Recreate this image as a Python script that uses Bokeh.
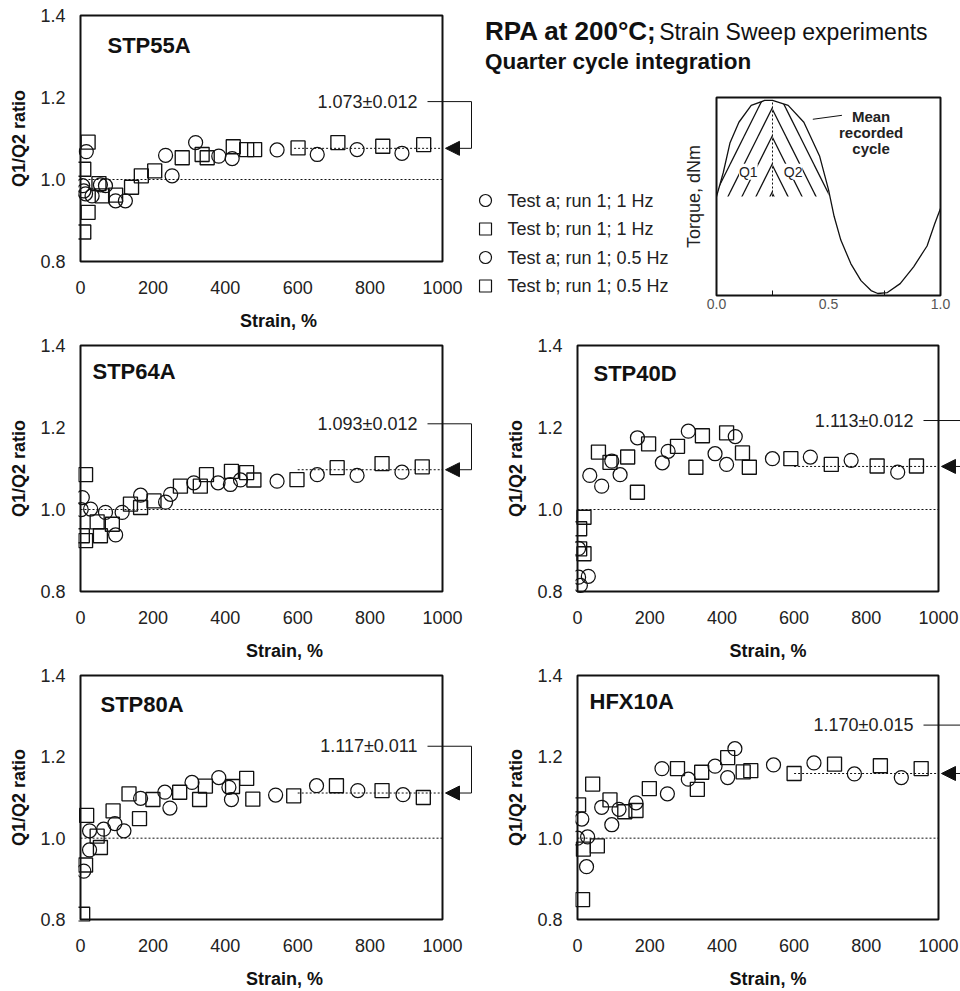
from bokeh.plotting import figure
from bokeh.layouts import row, column
from bokeh.models import (Range1d, FixedTicker, NumeralTickFormatter, Label, Arrow,
                          NormalHead, Div, BoxAnnotation)
from bokeh.core.properties import value
from bokeh.embed import file_html
from bokeh.resources import INLINE

FONT = "Liberation Sans"
INK = "#111111"

# ---------------- data ----------------
x_ticks = [0, 200, 400, 600, 800, 1000]
y_ticks = [0.8, 1.0, 1.2, 1.4]
x_max = 1000
y_min, y_max = 0.8, 1.4
ref_ratio = 1.0

panel_names = ["STP55A", "STP64A", "STP40D", "STP80A", "HFX10A"]
mean_text = ["1.073\u00b10.012", "1.093\u00b10.012", "1.113\u00b10.012", "1.117\u00b10.011", "1.170\u00b10.015"]
mean_level = [1.076, 1.097, 1.105, 1.111, 1.159]
text_level = [1.190, 1.209, 1.217, 1.226, 1.278]
fit_from = [590, 600, 600, 600, 600]

stp55a_circle_x = [16, 6, 9, 14, 32, 55, 69, 97, 124, 235, 253, 318, 382, 419, 543, 654, 764, 888]
stp55a_circle_y = [1.068, 0.985, 0.972, 0.965, 0.960, 0.987, 0.985, 0.948, 0.948, 1.059, 1.009, 1.090,
                   1.057, 1.051, 1.072, 1.061, 1.073, 1.064]
stp55a_square_x = [21, 9, 21, 9, 51, 60, 97, 141, 168, 205, 281, 336, 350, 422, 459, 481, 601, 711, 835, 948]
stp55a_square_y = [1.091, 1.025, 0.920, 0.872, 0.990, 0.960, 0.962, 0.981, 1.009, 1.021, 1.053, 1.061,
                   1.053, 1.080, 1.073, 1.073, 1.077, 1.090, 1.081, 1.085]

stp64a_circle_x = [5, 2, 28, 69, 115, 97, 166, 235, 249, 313, 380, 414, 442, 543, 654, 764, 888]
stp64a_circle_y = [1.029, 1.000, 1.001, 0.993, 0.993, 0.938, 1.035, 1.018, 1.037, 1.065, 1.065, 1.061,
                   1.072, 1.069, 1.085, 1.083, 1.091]
stp64a_square_x = [14, 5, 14, 46, 55, 88, 138, 166, 203, 276, 331, 348, 417, 459, 479, 598, 709, 833, 944]
stp64a_square_y = [1.085, 0.936, 0.924, 0.970, 0.936, 0.964, 1.013, 1.005, 1.021, 1.057, 1.057, 1.085,
                   1.093, 1.090, 1.072, 1.073, 1.102, 1.112, 1.104]

stp40d_circle_x = [3, 3, 8, 30, 34, 67, 95, 118, 166, 235, 251, 307, 381, 413, 437, 540, 645, 758, 887]
stp40d_circle_y = [0.905, 0.835, 0.815, 0.837, 1.083, 1.057, 1.118, 1.085, 1.175, 1.114, 1.142, 1.191,
                   1.136, 1.110, 1.178, 1.124, 1.128, 1.120, 1.091]
stp40d_square_x = [6, 18, 6, 18, 58, 90, 139, 166, 197, 277, 328, 346, 413, 457, 476, 591, 703, 830, 939]
stp40d_square_y = [0.953, 0.981, 0.904, 0.892, 1.140, 1.115, 1.128, 1.042, 1.160, 1.154, 1.103, 1.180,
                   1.187, 1.138, 1.103, 1.124, 1.110, 1.106, 1.106]

stp80a_circle_x = [9, 25, 25, 64, 95, 120, 166, 233, 247, 308, 382, 410, 417, 539, 652, 766, 891]
stp80a_circle_y = [0.919, 0.971, 1.018, 1.022, 1.036, 1.018, 1.098, 1.113, 1.074, 1.137, 1.149, 1.125,
                   1.095, 1.106, 1.129, 1.117, 1.107]
stp80a_square_x = [6, 14, 17, 46, 55, 90, 134, 163, 200, 274, 329, 345, 420, 459, 476, 589, 707, 833, 947]
stp80a_square_y = [0.813, 0.934, 1.056, 1.005, 0.977, 1.067, 1.109, 1.048, 1.095, 1.113, 1.095, 1.128,
                   1.127, 1.147, 1.096, 1.104, 1.129, 1.117, 1.100]

hfx10a_circle_x = [0, 12, 28, 25, 67, 95, 115, 162, 234, 249, 307, 381, 416, 436, 543, 655, 767, 897]
hfx10a_circle_y = [1.000, 1.047, 1.003, 0.930, 1.076, 1.033, 1.071, 1.087, 1.171, 1.109, 1.145, 1.177,
                   1.149, 1.220, 1.180, 1.185, 1.158, 1.149]
hfx10a_square_x = [3, 16, 14, 42, 55, 90, 131, 162, 199, 277, 332, 344, 416, 459, 480, 600, 712, 839, 952]
hfx10a_square_y = [1.082, 0.973, 0.849, 1.133, 0.981, 1.094, 1.065, 1.068, 1.122, 1.171, 1.120, 1.162,
                   1.198, 1.163, 1.166, 1.159, 1.182, 1.178, 1.171]

legend_labels = ["Test a; run 1; 1 Hz", "Test b; run 1; 1 Hz", "Test a; run 1; 0.5 Hz", "Test b; run 1; 0.5 Hz"]
legend_markers = ["circle", "square", "circle", "square"]

# mean recorded torque cycle (inset): fraction of cycle vs normalised torque
cycle_x = [0.0, 0.03, 0.06, 0.10, 0.155, 0.215, 0.25, 0.32, 0.39, 0.46, 0.50, 0.525, 0.555, 0.60,
           0.645, 0.69, 0.72, 0.763, 0.82, 0.88, 0.94, 0.975, 1.0]
cycle_y = [0.0, 0.24, 0.54, 0.75, 0.92, 0.97, 0.97, 0.92, 0.75, 0.41, 0.07, -0.20, -0.44, -0.68,
           -0.85, -0.95, -0.98, -0.97, -0.88, -0.71, -0.50, -0.27, -0.12]
quarter = 0.25
half = 0.5
inset_ticks = [0.0, 0.5, 1.0]

panel_data = [
    (stp55a_circle_x, stp55a_circle_y, stp55a_square_x, stp55a_square_y),
    (stp64a_circle_x, stp64a_circle_y, stp64a_square_x, stp64a_square_y),
    (stp40d_circle_x, stp40d_circle_y, stp40d_square_x, stp40d_square_y),
    (stp80a_circle_x, stp80a_circle_y, stp80a_square_x, stp80a_square_y),
    (hfx10a_circle_x, hfx10a_circle_y, hfx10a_square_x, hfx10a_square_y),
]

# layout (pixels)
name_dx = [27, 12, 16, 20, 12]
name_dy = [32, 28, 28, 32, 27]
PAD = 2


def style_axis(ax, size="18px"):
    ax.axis_line_color = None
    ax.major_tick_line_color = None
    ax.minor_tick_line_color = None
    ax.major_tick_in = 0
    ax.major_tick_out = 0
    ax.minor_tick_in = 0
    ax.minor_tick_out = 0
    ax.major_label_text_font = FONT
    ax.major_label_text_font_size = size
    ax.major_label_text_color = "#222222"
    ax.axis_label_text_font = FONT
    ax.axis_label_text_font_size = "18px"
    ax.axis_label_text_font_style = "bold"
    ax.axis_label_text_color = INK


def build_panel(i, width, height, box_left, box_w, box_top, box_h):
    cx, cy, sx, sy = panel_data[i]
    pad_right = width - box_left - box_w
    bl = box_left - PAD
    bt = box_top - PAD
    bb = height - bt - box_h - 2 * PAD
    xpp = x_max / box_w
    ypp = (y_max - y_min) / box_h
    p = figure(width=width, height=height,
               x_range=Range1d(-PAD * xpp, x_max + pad_right * xpp),
               y_range=Range1d(y_min - PAD * ypp, y_max + PAD * ypp),
               output_backend="svg", toolbar_location=None,
               min_border_left=bl, min_border_right=0, min_border_top=bt, min_border_bottom=bb)
    p.background_fill_color = "white"
    p.border_fill_color = "white"
    p.outline_line_color = None
    p.xgrid.visible = False
    p.ygrid.visible = False
    style_axis(p.xaxis[0])
    style_axis(p.yaxis[0])
    p.xaxis.ticker = FixedTicker(ticks=x_ticks)
    p.yaxis.ticker = FixedTicker(ticks=y_ticks)
    p.xaxis.formatter = NumeralTickFormatter(format="0")
    p.yaxis.formatter = NumeralTickFormatter(format="0.0")
    p.xaxis.axis_label = "Strain, %"
    p.yaxis.axis_label = "Q1/Q2 ratio"
    p.xaxis.major_label_standoff = 17
    p.xaxis.axis_label_standoff = 14
    p.yaxis.major_label_standoff = 13
    p.yaxis.axis_label_standoff = 8

    p.segment(x0=[0], y0=[ref_ratio], x1=[x_max], y1=[ref_ratio],
              line_color=INK, line_width=1, line_dash="2 2")
    p.segment(x0=[fit_from[i]], y0=[mean_level[i]], x1=[x_max], y1=[mean_level[i]],
              line_color=INK, line_width=1, line_dash="2 2")
    p.scatter(cx, cy, marker="circle", size=14, fill_color=None, line_color=INK, line_width=1.25)
    p.scatter(sx, sy, marker="square", size=14, fill_color=None, line_color=INK, line_width=1.35)

    p.add_layout(BoxAnnotation(left=0, right=x_max, bottom=y_min, top=y_max, fill_color=None,
                               line_color=INK, line_width=2, line_alpha=1))

    p.add_layout(Label(x=PAD + name_dx[i], y=PAD + box_h - name_dy[i], x_units="screen",
                       y_units="screen", text=panel_names[i], text_font=FONT,
                       text_font_size="22px", text_font_style="bold", text_color=INK,
                       text_baseline="middle", text_align="left"))
    x_text_end = x_max - 25 * xpp
    x_line0 = x_max - 15 * xpp
    x_bracket = x_max + 29 * xpp
    x_tip = x_max + 3 * xpp
    p.add_layout(Label(x=x_text_end, y=text_level[i], text=mean_text[i], text_font=FONT,
                       text_font_size="18px", text_color="#222222", text_align="right",
                       text_baseline="middle"))
    p.add_layout(Arrow(end=None, x_start=x_line0, y_start=text_level[i], x_end=x_bracket,
                       y_end=text_level[i], line_color=INK, line_width=1))
    p.add_layout(Arrow(end=None, x_start=x_bracket, y_start=text_level[i], x_end=x_bracket,
                       y_end=mean_level[i], line_color=INK, line_width=1))
    p.add_layout(Arrow(end=NormalHead(size=14, fill_color=INK, line_color=INK, line_width=1),
                       x_start=x_bracket, y_start=mean_level[i], x_end=x_tip, y_end=mean_level[i],
                       line_color=INK, line_width=1))
    return p


p1 = build_panel(0, 478, 333, 80, 362, 15, 248)
p2 = build_panel(1, 490, 330, 80, 362, 12, 248)
p3 = build_panel(2, 470, 330, 87, 361, 12, 246)
p4 = build_panel(3, 490, 328, 80, 362, 12, 247)
p5 = build_panel(4, 470, 328, 87, 361, 12, 245)

# ---------------- title ----------------
TITLE_H = 80
title_html = (
    '<div style="font-family:\'Liberation Sans\',Arial,sans-serif;color:#111;padding-left:7px;">'
    '<div style="height:26px;line-height:26px;margin-top:18px;white-space:nowrap;">'
    '<span style="font-weight:bold;font-size:26px;">RPA at 200\u00b0C;</span> '
    '<span style="font-size:23px;">Strain Sweep experiments</span></div>'
    '<div style="height:26px;line-height:24px;margin-top:6px;font-weight:bold;font-size:22.5px;'
    'white-space:nowrap;">Quarter cycle integration</div></div>')
title_div = Div(text=title_html, width=482, height=TITLE_H, margin=(0, 0, 0, 0))

# ---------------- legend (page-pixel coordinates) ----------------
LEG_LEFT, LEG_W = 478, 202
LEG_TOP, LEG_H = TITLE_H, 333 - TITLE_H
IN_BT, IN_BB = 97 - TITLE_H, 38
leg = figure(width=LEG_W, height=LEG_H,
             x_range=Range1d(LEG_LEFT, LEG_LEFT + LEG_W),
             y_range=Range1d(LEG_TOP + LEG_H - IN_BB, LEG_TOP + IN_BT),
             x_axis_type=None, y_axis_type=None, output_backend="svg", toolbar_location=None,
             min_border_left=0, min_border_right=0, min_border_top=IN_BT, min_border_bottom=IN_BB)
leg.outline_line_color = None
leg.background_fill_color = "white"
leg.border_fill_color = "white"
leg.grid.visible = False
for k, (lab, mk) in enumerate(zip(legend_labels, legend_markers)):
    yy = 200 + 28.5 * k
    leg.scatter(x=[LEG_LEFT + 7], y=[yy], marker=mk, size=12, fill_color=None, line_color=INK,
                line_width=1.2)
    leg.text(x=[LEG_LEFT + 29], y=[yy], text=[lab], text_font=value(FONT),
             text_font_size=value("18px"), text_color="#222222", text_baseline="middle",
             text_align="left")

# ---------------- inset ----------------
ins = figure(width=280, height=LEG_H, x_range=Range1d(0, 1), y_range=Range1d(-1, 1),
             output_backend="svg", toolbar_location=None,
             min_border_left=35, min_border_right=20, min_border_top=IN_BT, min_border_bottom=IN_BB)
ins.background_fill_color = "white"
ins.border_fill_color = "white"
ins.outline_line_color = INK
ins.outline_line_width = 2
ins.xgrid.visible = False
ins.ygrid.visible = False
style_axis(ins.xaxis[0], size="14px")
style_axis(ins.yaxis[0], size="14px")
ins.xaxis.ticker = FixedTicker(ticks=inset_ticks, minor_ticks=[quarter, 0.75])
ins.xaxis.formatter = NumeralTickFormatter(format="0.0")
ins.xaxis.major_label_text_color = "#555555"
ins.xaxis.major_label_standoff = 3
ins.xaxis.minor_tick_line_color = INK
ins.xaxis.minor_tick_in = 5
ins.yaxis.ticker = FixedTicker(ticks=[])
ins.yaxis.major_label_standoff = 0
ins.yaxis.axis_label = "Torque, dNm"
ins.yaxis.axis_label_text_font_style = "normal"
ins.yaxis.axis_label_text_font_size = "18px"
ins.yaxis.axis_label_text_color = "#222222"
ins.yaxis.axis_label_standoff = 13

q1x = [x for x in cycle_x if x <= quarter]
q1y = [y for x, y in zip(cycle_x, cycle_y) if x <= quarter]
q2x = [x for x in cycle_x if quarter <= x <= half]
q2y = [y for x, y in zip(cycle_x, cycle_y) if quarter <= x <= half]
ins.varea(x=q1x, y1=0, y2=q1y, fill_color=None, hatch_pattern="/", hatch_color=INK,
          hatch_scale=28, hatch_weight=1.3)
ins.varea(x=q2x, y1=0, y2=q2y, fill_color=None, hatch_pattern="\\", hatch_color=INK,
          hatch_scale=28, hatch_weight=1.3)
ins.line(cycle_x, cycle_y, line_color=INK, line_width=1.3)
peak_y = max(cycle_y)
ins.segment(x0=[quarter], y0=[0], x1=[quarter], y1=[peak_y], line_color=INK, line_width=1,
            line_dash="2 2")
for txt, xx in (("Q1", 0.142), ("Q2", 0.342)):
    ins.add_layout(Label(x=xx, y=0.25, text=txt, text_font=FONT, text_font_size="14px",
                         text_color="#222222", text_align="center", text_baseline="middle",
                         background_fill_color="white"))
for txt, yy in (("Mean", 0.81), ("recorded", 0.65), ("cycle", 0.48)):
    ins.add_layout(Label(x=0.69, y=yy, text=txt, text_font=FONT, text_font_size="15px",
                         text_font_style="bold", text_color="#222222", text_align="center",
                         text_baseline="middle"))
ins.add_layout(Arrow(end=None, x_start=0.43, y_start=0.78, x_end=0.56, y_end=0.82,
                     line_color=INK, line_width=1))

layout = column(
    row(p1, column(title_div, row(leg, ins))),
    row(p2, p3),
    row(p4, p5),
)

open("out.html", "w").write(file_html(layout, INLINE))
